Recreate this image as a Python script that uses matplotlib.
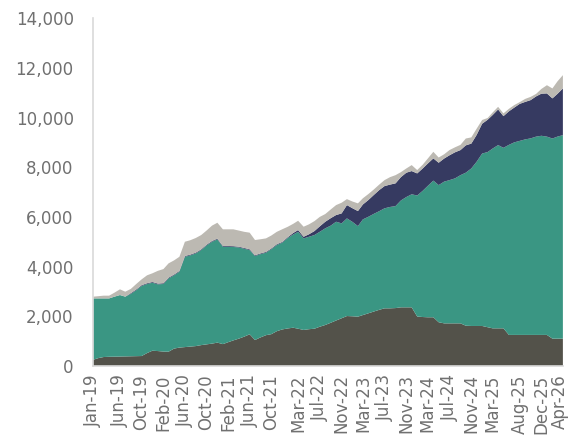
import numpy as np
import pandas as pd
from matplotlib import pyplot as plt
from matplotlib.ticker import FuncFormatter
from matplotlib.transforms import ScaledTranslation

# monthly values, Jan-19 .. Apr-26
months = pd.date_range('2019-01-01', '2026-04-01', freq='MS')

dark = [250, 320, 360, 370, 375, 380, 385, 390, 395, 400,
        520, 615, 600, 580, 575, 700, 740, 760, 780, 800,
        840, 870, 900, 940, 880, 960, 1030, 1100, 1180, 1275,
        1045, 1150, 1240, 1280, 1400, 1470, 1510, 1540, 1500, 1450,
        1480, 1500, 1580, 1650, 1740, 1830, 1920, 2010, 2000, 1985,
        2050, 2120, 2190, 2260, 2320, 2320, 2330, 2360, 2360, 2360,
        1990, 1970, 1960, 1960, 1760, 1715, 1715, 1715, 1715, 1620,
        1610, 1610, 1610, 1560, 1515, 1515, 1515, 1250, 1250, 1250,
        1250, 1250, 1250, 1250, 1250, 1100, 1100, 1100]

teal = [2470, 2400, 2360, 2350, 2415, 2475, 2405, 2510, 2655, 2820,
        2780, 2735, 2685, 2720, 2950, 2950, 3055, 3635, 3670, 3730,
        3825, 3980, 4100, 4155, 3920, 3840, 3760, 3670, 3540, 3390,
        3380, 3350, 3320, 3420, 3470, 3490, 3640, 3750, 3900, 3685,
        3720, 3770, 3820, 3890, 3910, 3975, 3820, 3930, 3800, 3645,
        3850, 3885, 3930, 3970, 4025, 4080, 4105, 4300, 4440, 4550,
        4870, 5080, 5290, 5500, 5520, 5705, 5765, 5835, 5965, 6160,
        6340, 6610, 6940, 7050, 7235, 7375, 7265, 7650, 7750, 7810,
        7870, 7910, 7980, 8015, 7980, 8055, 8130, 8190]

navy = [0, 0, 0, 0, 0, 0, 0, 30, 30, 30,
        30, 30, 30, 30, 30, 30, 30, 30, 30, 30,
        30, 30, 30, 30, 30, 30, 30, 30, 30, 30,
        30, 30, 30, 30, 30, 30, 30, 60, 70, 65,
        100, 160, 220, 265, 300, 270, 400, 535, 550, 605,
        600, 675, 760, 850, 895, 900, 915, 940, 980, 935,
        890, 900, 900, 895, 900, 930, 1000, 1050, 1010, 1100,
        1000, 1080, 1200, 1300, 1350, 1435, 1275, 1350, 1400, 1490,
        1510, 1540, 1620, 1695, 1740, 1615, 1720, 1880]

light = [70, 90, 110, 110, 160, 230, 200, 170, 220, 235,
         320, 350, 515, 570, 575, 570, 570, 575, 580, 590,
         575, 570, 620, 640, 670, 670, 680, 650, 650, 670,
         615, 570, 545, 520, 500, 510, 420, 370, 375, 405,
         400, 400, 380, 310, 350, 400, 430, 240, 270, 310,
         250, 240, 220, 220, 240, 300, 330, 200, 170, 240,
         135, 150, 200, 265, 210, 170, 210, 200, 210, 275,
         250, 250, 150, 70, 100, 105, 110, 100, 100, 70,
         120, 130, 100, 190, 330, 400, 500, 535]

tick_labels = ['Jan-19', 'Jun-19', 'Oct-19', 'Feb-20', 'Jun-20', 'Oct-20',
               'Feb-21', 'Jun-21', 'Oct-21', 'Mar-22', 'Jul-22', 'Nov-22',
               'Mar-23', 'Jul-23', 'Nov-23', 'Mar-24', 'Jul-24', 'Nov-24',
               'Mar-25', 'Aug-25', 'Dec-25', 'Apr-26']

colors = ['#53524a', '#3a9683', '#363a61', '#bcb9b2']
text_col = '#707070'

fig = plt.figure(figsize=(5.68, 4.42), dpi=100)
ax = fig.add_axes([0.164, 0.172, 0.827, 0.787])

ax.stackplot(months, dark, teal, navy, light, colors=colors, linewidth=0)

ax.set_xlim(months[0], months[-1])
ax.set_ylim(0, 14000)
ax.set_yticks(np.arange(0, 14001, 2000))
ax.yaxis.set_major_formatter(FuncFormatter(lambda v, p: f'{int(v):,}'))

tick_pos = pd.to_datetime(tick_labels, format='%b-%y')
ax.set_xticks(tick_pos)
ax.set_xticklabels(tick_labels, rotation=90)

ax.tick_params(axis='both', length=0, colors=text_col, labelsize=12)
ax.tick_params(axis='y', pad=14)
ax.tick_params(axis='x', pad=6)

# nudge the last label a little so it stays inside the figure
last = ax.get_xticklabels()[-1]
last.set_transform(last.get_transform() + ScaledTranslation(-2.5 / 72, 0, fig.dpi_scale_trans))

for s in ['top', 'right']:
    ax.spines[s].set_visible(False)
for s in ['left', 'bottom']:
    ax.spines[s].set_color('#d9d9d9')
    ax.spines[s].set_linewidth(1.2)

fig.savefig('out.png', dpi=100)
